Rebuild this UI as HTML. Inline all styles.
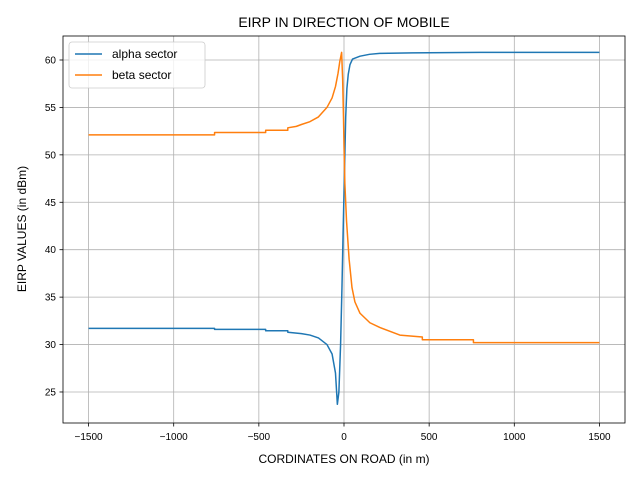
<!DOCTYPE html>
<html><head><meta charset="utf-8"><style>
body{margin:0;background:#fff;}
svg text{font-family:"Liberation Sans","DejaVu Sans",sans-serif;fill:#000;}
</style></head><body>
<svg id="chart" width="640" height="480">
<rect width="640" height="480" fill="#fff"/>
<g id="grid"></g><g id="series"></g><g id="axes"></g>
</svg>
<script>
const xTicks=[-1500,-1000,-500,0,500,1000,1500];
const xTickLabels=["\u22121500","\u22121000","\u2212500","0","500","1000","1500"];
const yTicks=[25,30,35,40,45,50,55,60];
const alphaX=[-1500,-760,-760,-460,-460,-330,-330,-250,-200,-150,-100,-70,-50,-45,-39,-30,-20,-12,-5,0,5,10,17,25,35,50,94,150,210,400,800,1500];
const alphaY=[31.7,31.7,31.6,31.6,31.45,31.45,31.3,31.15,31.0,30.7,30.0,29.0,27.0,25.5,23.7,25.0,30,36,42,46,50,54,57,58.5,59.5,60.1,60.4,60.6,60.7,60.75,60.8,60.8];
const betaX=[-1500,-760,-760,-460,-460,-330,-330,-280,-250,-200,-150,-100,-70,-50,-35,-25,-14,-8,-3,0,5,15,30,47,64,94,152,210,328,460,460,760,760,1500];
const betaY=[52.1,52.1,52.35,52.35,52.6,52.6,52.85,53.0,53.2,53.5,54.0,55.0,56.0,57.2,58.6,59.8,60.8,58,54,51,47,43,39,36,34.5,33.3,32.3,31.8,31.0,30.8,30.5,30.5,30.2,30.2];
const L=63,R=625,T=36,B=423;
const xMin=-1650,xMax=1650,yMin=21.73,yMax=62.53;
const sx=v=>L+(v-xMin)/(xMax-xMin)*(R-L);
const sy=v=>B-(v-yMin)/(yMax-yMin)*(B-T);
const NS="http://www.w3.org/2000/svg";
function mk(t,a,p){const e=document.createElementNS(NS,t);for(const k in a)e.setAttribute(k,a[k]);p.appendChild(e);return e;}
const grid=document.getElementById('grid'),axes=document.getElementById('axes'),ser=document.getElementById('series');
xTicks.forEach((v,i)=>{const x=sx(v);
 const g=mk('line',{x1:x,x2:x,y1:T,y2:B,stroke:'#b0b0b0','stroke-width':0.8},grid);
 
 
 mk('line',{x1:x,x2:x,y1:B,y2:B+3.5,stroke:'#000','stroke-width':0.8},axes);
 const t=mk('text',{x:x,y:B+17,'text-anchor':'middle','font-size':10},axes);t.textContent=xTickLabels[i];
 
 });
yTicks.forEach(v=>{const y=sy(v);
 const g=mk('line',{x1:L,x2:R,y1:y,y2:y,stroke:'#b0b0b0','stroke-width':0.8},grid);
 
 
 mk('line',{x1:L-3.5,x2:L,y1:y,y2:y,stroke:'#000','stroke-width':0.8},axes);
 const t=mk('text',{x:L-7,y:y+3.5,'text-anchor':'end','font-size':10},axes);t.textContent=v;
 
 });
function line(xs,ys,c,name){const d=xs.map((x,i)=>(i?'L':'M')+sx(x).toFixed(2)+','+sy(ys[i]).toFixed(2)).join('');
 const p=mk('path',{d:d,fill:'none',stroke:c,'stroke-width':1.5,'stroke-linejoin':'round'},ser);
 
 }
line(alphaX,alphaY,'#1f77b4','alpha-sector-line');
line(betaX,betaY,'#ff7f0e','beta-sector-line');
const fr=mk('rect',{x:L,y:T,width:R-L,height:B-T,fill:'none',stroke:'#000','stroke-width':0.8},axes);


</script>
<svg style="position:absolute;left:0;top:0" width="640" height="480">
<text x="344" y="27" text-anchor="middle" font-size="14">EIRP IN DIRECTION OF MOBILE</text>
<text x="344" y="463" text-anchor="middle" font-size="12">CORDINATES ON ROAD (in m)</text>
<text x="26" y="229" text-anchor="middle" font-size="12" transform="rotate(-90 26 229)">EIRP VALUES (in dBm)</text>
<g>
<rect x="69" y="42" width="136" height="46" rx="3" fill="#fff" fill-opacity="0.8" stroke="#ccc" stroke-width="0.8"/>
<line x1="75" x2="102" y1="54" y2="54" stroke="#1f77b4" stroke-width="1.5"/>
<text x="112" y="58" font-size="12">alpha sector</text>
<line x1="75" x2="102" y1="75" y2="75" stroke="#ff7f0e" stroke-width="1.5"/>
<text x="112" y="79" font-size="12">beta sector</text>
</g>
</svg>
</body></html>
